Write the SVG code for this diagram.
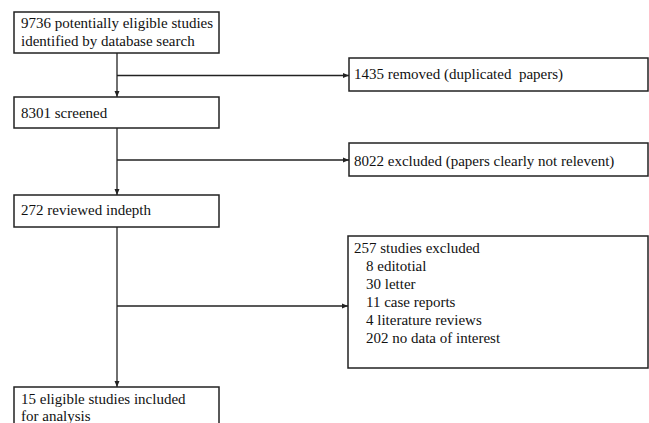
<svg xmlns="http://www.w3.org/2000/svg" width="649" height="423" viewBox="0 0 649 423">
<style>
.box{fill:#fff;stroke:#222;stroke-width:1.5}
.t{font-family:'Liberation Serif','Times New Roman',Tinos,'DejaVu Serif',serif;font-size:15px;fill:#111}
.c{stroke:#222;stroke-width:1.3;fill:none}
</style>
<defs>
<marker id="ah" markerWidth="6" markerHeight="6" refX="6" refY="3" orient="auto" markerUnits="userSpaceOnUse">
<path d="M0,0.5 L6,3 L0,5.5 Z" fill="#222"/>
</marker>
</defs>
<rect width="649" height="423" fill="#fff"/>
<g id="connectors">
<line class="c" x1="117" y1="53" x2="117" y2="97" marker-end="url(#ah)"/>
<line class="c" x1="117" y1="75.5" x2="349" y2="75.5" marker-end="url(#ah)"/>
<line class="c" x1="117" y1="128" x2="117" y2="195" marker-end="url(#ah)"/>
<line class="c" x1="117" y1="160" x2="349" y2="160" marker-end="url(#ah)"/>
<line class="c" x1="117" y1="227" x2="117" y2="387" marker-end="url(#ah)"/>
<line class="c" x1="117" y1="306" x2="348" y2="306" marker-end="url(#ah)"/>
</g>
<g id="n1">
<rect class="box" x="14" y="12" width="205" height="41"/>
<text class="t" x="21" y="28">9736 potentially eligible studies</text>
<text class="t" x="21" y="46">identified by database search</text>
</g>
<g id="n2">
<rect class="box" x="349" y="58" width="299" height="33"/>
<text class="t" x="354" y="79" xml:space="preserve">1435 removed (duplicated  papers)</text>
</g>
<g id="n3">
<rect class="box" x="14" y="97" width="205" height="31"/>
<text class="t" x="21" y="118">8301 screened</text>
</g>
<g id="n4">
<rect class="box" x="349" y="143" width="299" height="33"/>
<text class="t" x="354" y="166">8022 excluded (papers clearly not relevent)</text>
</g>
<g id="n5">
<rect class="box" x="14" y="195" width="205" height="32"/>
<text class="t" x="21" y="215">272 reviewed indepth</text>
</g>
<g id="n6">
<rect class="box" x="348" y="236" width="300" height="132"/>
<text class="t" x="354" y="253">257 studies excluded</text>
<text class="t" x="366" y="271">8 editotial</text>
<text class="t" x="366" y="289">30 letter</text>
<text class="t" x="366" y="307">11 case reports</text>
<text class="t" x="366" y="325">4 literature reviews</text>
<text class="t" x="366" y="343">202 no data of interest</text>
</g>
<g id="n7">
<rect class="box" x="14" y="387" width="205" height="50"/>
<text class="t" x="21" y="404">15 eligible studies included</text>
<text class="t" x="21" y="421">for analysis</text>
</g>
</svg>
